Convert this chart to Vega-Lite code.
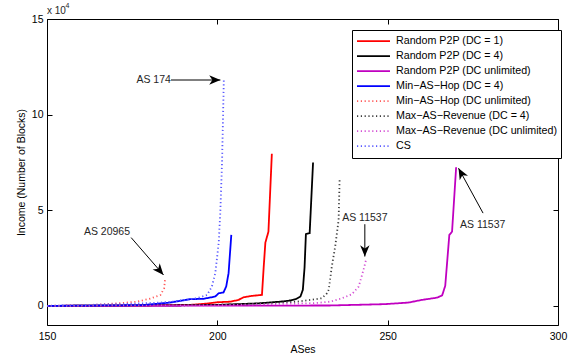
{
  "$schema": "https://vega.github.io/schema/vega-lite/v6.json",
  "width": 511,
  "height": 306,
  "autosize": {"type": "none"},
  "padding": {"left": 47, "top": 19, "right": 17, "bottom": 31},
  "background": "white",
  "config": {
    "view": {"stroke": null},
    "font": "Liberation Sans",
    "axis": {
      "domainColor": "black",
      "domainWidth": 1,
      "tickColor": "black",
      "tickSize": -5,
      "labelFlush": false,
      "labelOverlap": false,
      "labelColor": "black",
      "labelFont": "Liberation Sans",
      "labelFontSize": 10.5,
      "titleFont": "Liberation Sans",
      "titleFontSize": 10.5,
      "titleFontWeight": "normal",
      "titleColor": "black",
      "grid": false
    }
  },
  "datasets": {
    "curves": [
      {"series": "Random P2P (DC = 1)", "x": 150, "y": 0},
      {"series": "Random P2P (DC = 1)", "x": 170, "y": 200},
      {"series": "Random P2P (DC = 1)", "x": 185, "y": 400},
      {"series": "Random P2P (DC = 1)", "x": 192, "y": 500},
      {"series": "Random P2P (DC = 1)", "x": 197, "y": 1200},
      {"series": "Random P2P (DC = 1)", "x": 200, "y": 1900},
      {"series": "Random P2P (DC = 1)", "x": 203.8, "y": 2200},
      {"series": "Random P2P (DC = 1)", "x": 206.2, "y": 3100},
      {"series": "Random P2P (DC = 1)", "x": 207.7, "y": 4500},
      {"series": "Random P2P (DC = 1)", "x": 210, "y": 5200},
      {"series": "Random P2P (DC = 1)", "x": 213.1, "y": 5750},
      {"series": "Random P2P (DC = 1)", "x": 213.6, "y": 20000},
      {"series": "Random P2P (DC = 1)", "x": 214.1, "y": 33100},
      {"series": "Random P2P (DC = 1)", "x": 215, "y": 38800},
      {"series": "Random P2P (DC = 1)", "x": 216, "y": 79500},

      {"series": "Random P2P (DC = 4)", "x": 150, "y": 0},
      {"series": "Random P2P (DC = 4)", "x": 180, "y": 200},
      {"series": "Random P2P (DC = 4)", "x": 200, "y": 500},
      {"series": "Random P2P (DC = 4)", "x": 212, "y": 1300},
      {"series": "Random P2P (DC = 4)", "x": 218.5, "y": 2200},
      {"series": "Random P2P (DC = 4)", "x": 221, "y": 2700},
      {"series": "Random P2P (DC = 4)", "x": 223, "y": 3500},
      {"series": "Random P2P (DC = 4)", "x": 224.4, "y": 4900},
      {"series": "Random P2P (DC = 4)", "x": 225.1, "y": 8400},
      {"series": "Random P2P (DC = 4)", "x": 225.6, "y": 20000},
      {"series": "Random P2P (DC = 4)", "x": 226, "y": 37500},
      {"series": "Random P2P (DC = 4)", "x": 227.1, "y": 38000},
      {"series": "Random P2P (DC = 4)", "x": 228.1, "y": 75000},

      {"series": "Random P2P (DC unlimited)", "x": 150, "y": 0},
      {"series": "Random P2P (DC unlimited)", "x": 200, "y": 100},
      {"series": "Random P2P (DC unlimited)", "x": 233, "y": 200},
      {"series": "Random P2P (DC unlimited)", "x": 249, "y": 900},
      {"series": "Random P2P (DC unlimited)", "x": 256, "y": 1700},
      {"series": "Random P2P (DC unlimited)", "x": 260, "y": 3100},
      {"series": "Random P2P (DC unlimited)", "x": 264.5, "y": 4300},
      {"series": "Random P2P (DC unlimited)", "x": 266, "y": 5500},
      {"series": "Random P2P (DC unlimited)", "x": 266.9, "y": 10500},
      {"series": "Random P2P (DC unlimited)", "x": 268.1, "y": 37100},
      {"series": "Random P2P (DC unlimited)", "x": 268.9, "y": 38800},
      {"series": "Random P2P (DC unlimited)", "x": 270.1, "y": 72500},

      {"series": "Min−AS−Hop (DC = 4)", "x": 150, "y": 0},
      {"series": "Min−AS−Hop (DC = 4)", "x": 165, "y": 200},
      {"series": "Min−AS−Hop (DC = 4)", "x": 178, "y": 400},
      {"series": "Min−AS−Hop (DC = 4)", "x": 186, "y": 1700},
      {"series": "Min−AS−Hop (DC = 4)", "x": 192, "y": 3500},
      {"series": "Min−AS−Hop (DC = 4)", "x": 196, "y": 3700},
      {"series": "Min−AS−Hop (DC = 4)", "x": 199.4, "y": 4900},
      {"series": "Min−AS−Hop (DC = 4)", "x": 200.4, "y": 6600},
      {"series": "Min−AS−Hop (DC = 4)", "x": 201.8, "y": 7000},
      {"series": "Min−AS−Hop (DC = 4)", "x": 202.6, "y": 10100},
      {"series": "Min−AS−Hop (DC = 4)", "x": 203.3, "y": 17100},
      {"series": "Min−AS−Hop (DC = 4)", "x": 204.1, "y": 37100},

      {"series": "Min−AS−Hop (DC unlimited)", "x": 150, "y": 0},
      {"series": "Min−AS−Hop (DC unlimited)", "x": 163.7, "y": 500},
      {"series": "Min−AS−Hop (DC unlimited)", "x": 171.5, "y": 1400},
      {"series": "Min−AS−Hop (DC unlimited)", "x": 176.4, "y": 2200},
      {"series": "Min−AS−Hop (DC unlimited)", "x": 180.3, "y": 3800},
      {"series": "Min−AS−Hop (DC unlimited)", "x": 183.3, "y": 5700},
      {"series": "Min−AS−Hop (DC unlimited)", "x": 184.4, "y": 9200},
      {"series": "Min−AS−Hop (DC unlimited)", "x": 184.7, "y": 14800},

      {"series": "Max−AS−Revenue (DC = 4)", "x": 150, "y": 0},
      {"series": "Max−AS−Revenue (DC = 4)", "x": 190, "y": 300},
      {"series": "Max−AS−Revenue (DC = 4)", "x": 210, "y": 900},
      {"series": "Max−AS−Revenue (DC = 4)", "x": 223.4, "y": 2200},
      {"series": "Max−AS−Revenue (DC = 4)", "x": 227.3, "y": 3100},
      {"series": "Max−AS−Revenue (DC = 4)", "x": 230.7, "y": 4000},
      {"series": "Max−AS−Revenue (DC = 4)", "x": 232.2, "y": 6600},
      {"series": "Max−AS−Revenue (DC = 4)", "x": 232.7, "y": 8400},
      {"series": "Max−AS−Revenue (DC = 4)", "x": 233.6, "y": 20500},
      {"series": "Max−AS−Revenue (DC = 4)", "x": 234.6, "y": 31000},
      {"series": "Max−AS−Revenue (DC = 4)", "x": 235.6, "y": 45000},
      {"series": "Max−AS−Revenue (DC = 4)", "x": 235.9, "y": 66200},

      {"series": "Max−AS−Revenue (DC unlimited)", "x": 150, "y": 0},
      {"series": "Max−AS−Revenue (DC unlimited)", "x": 200, "y": 300},
      {"series": "Max−AS−Revenue (DC unlimited)", "x": 228.3, "y": 1400},
      {"series": "Max−AS−Revenue (DC unlimited)", "x": 233.2, "y": 2200},
      {"series": "Max−AS−Revenue (DC unlimited)", "x": 236.6, "y": 4000},
      {"series": "Max−AS−Revenue (DC unlimited)", "x": 239.5, "y": 6100},
      {"series": "Max−AS−Revenue (DC unlimited)", "x": 241.5, "y": 10100},
      {"series": "Max−AS−Revenue (DC unlimited)", "x": 242.9, "y": 18800},
      {"series": "Max−AS−Revenue (DC unlimited)", "x": 243.7, "y": 24400},

      {"series": "CS", "x": 150, "y": 0},
      {"series": "CS", "x": 173.5, "y": 1000},
      {"series": "CS", "x": 183.3, "y": 1700},
      {"series": "CS", "x": 187, "y": 2300},
      {"series": "CS", "x": 194, "y": 4000},
      {"series": "CS", "x": 197, "y": 5700},
      {"series": "CS", "x": 198.4, "y": 10100},
      {"series": "CS", "x": 199.4, "y": 17100},
      {"series": "CS", "x": 200.4, "y": 32800},
      {"series": "CS", "x": 200.9, "y": 50200},
      {"series": "CS", "x": 201.4, "y": 76300},
      {"series": "CS", "x": 201.9, "y": 117800}
    ],
    "notes": [
      {"id": "a174", "label": "AS 174", "tx": 181.3, "ty": 118100, "x1": 186.4, "y1": 118100, "x2": 200.9, "y2": 118100},
      {"id": "a20965", "label": "AS 20965", "tx": 167.6, "ty": 38800, "x1": 174.7, "y1": 35700, "x2": 184.2, "y2": 16200},
      {"id": "a11537m", "label": "AS 11537", "tx": 243.3, "ty": 45800, "x1": 243.3, "y1": 42700, "x2": 243.3, "y2": 25800},
      {"id": "a11537r", "label": "AS 11537", "tx": 277.9, "ty": 42300, "x1": 278.0, "y1": 48500, "x2": 270.8, "y2": 72000}
    ],
    "exponent": [
      {"t": "x 10", "x": 150, "y": 152600},
      {"t": "4", "x": 155.4, "y": 155500}
    ]
  },
  "layer": [
    {
      "data": {"name": "curves"},
      "mark": {"type": "line", "clip": true},
      "encoding": {
        "x": {"field": "x", "type": "quantitative",
          "scale": {"domain": [150, 300], "nice": false, "zero": false},
          "axis": {"values": [150, 200, 250, 300], "title": "ASes", "labelPadding": 11, "titlePadding": 3}},
        "y": {"field": "y", "type": "quantitative",
          "scale": {"domain": [-10000, 150000], "nice": false, "zero": false},
          "axis": {"values": [0, 50000, 100000, 150000], "labelExpr": "datum.value / 10000", "title": "Income (Number of Blocks)", "labelPadding": 9, "titlePadding": 5}},
        "color": {"field": "series", "type": "nominal",
          "scale": {
            "domain": ["Random P2P (DC = 1)", "Random P2P (DC = 4)", "Random P2P (DC unlimited)", "Min−AS−Hop (DC = 4)", "Min−AS−Hop (DC unlimited)", "Max−AS−Revenue (DC = 4)", "Max−AS−Revenue (DC unlimited)", "CS"],
            "range": ["#ff0000", "#000000", "#c000c0", "#0000ff", "#ff5a5a", "#3c3c3c", "#d450d4", "#5a5aff"]},
          "legend": {
            "title": null, "orient": "none", "legendX": 305, "legendY": 11,
            "fillColor": "white", "strokeColor": "black",
            "padding": 4, "symbolType": "stroke", "symbolSize": 1089,
            "labelFont": "Liberation Sans", "labelFontSize": 10.7, "labelColor": "black",
            "labelOffset": 5, "rowPadding": 0, "clipHeight": 14.3, "labelLimit": 300
          }},
        "strokeDash": {"field": "series", "type": "nominal",
          "scale": {
            "domain": ["Random P2P (DC = 1)", "Random P2P (DC = 4)", "Random P2P (DC unlimited)", "Min−AS−Hop (DC = 4)", "Min−AS−Hop (DC unlimited)", "Max−AS−Revenue (DC = 4)", "Max−AS−Revenue (DC unlimited)", "CS"],
            "range": [[1, 0], [1, 0], [1, 0], [1, 0], [1.2, 2.6], [1.2, 2.6], [1.2, 2.6], [1.2, 2.6]]}},
        "strokeWidth": {"field": "series", "type": "nominal",
          "scale": {
            "domain": ["Random P2P (DC = 1)", "Random P2P (DC = 4)", "Random P2P (DC unlimited)", "Min−AS−Hop (DC = 4)", "Min−AS−Hop (DC unlimited)", "Max−AS−Revenue (DC = 4)", "Max−AS−Revenue (DC unlimited)", "CS"],
            "range": [1.8, 1.8, 1.8, 1.8, 1.2, 1.2, 1.2, 1.2]}}
      }
    },
    {
      "data": {"name": "notes"},
      "mark": {"type": "rule", "color": "black", "strokeWidth": 1},
      "encoding": {
        "x": {"field": "x1", "type": "quantitative", "axis": {"orient": "top", "values": [150, 200, 250, 300], "labels": false, "title": null}},
        "y": {"field": "y1", "type": "quantitative", "axis": {"orient": "right", "values": [0, 50000, 100000, 150000], "labels": false, "title": null}},
        "x2": {"field": "x2"},
        "y2": {"field": "y2"}
      }
    },
    {
      "data": {"name": "notes"},
      "mark": {"type": "text", "font": "Liberation Sans", "fontSize": 10.5, "color": "#262626", "align": "center", "baseline": "middle"},
      "encoding": {
        "x": {"field": "tx", "type": "quantitative", "axis": null},
        "y": {"field": "ty", "type": "quantitative", "axis": null},
        "text": {"field": "label"}
      }
    },
    {
      "data": {"name": "notes"},
      "transform": [{"filter": "datum.id == 'a174'"}],
      "mark": {"type": "point", "shape": "M0,0 L-1,-0.42 L-0.72,0 L-1,0.42 Z", "filled": true, "color": "black", "size": 500, "angle": 0, "opacity": 1},
      "encoding": {"x": {"field": "x2", "type": "quantitative", "axis": null}, "y": {"field": "y2", "type": "quantitative", "axis": null}}
    },
    {
      "data": {"name": "notes"},
      "transform": [{"filter": "datum.id == 'a20965'"}],
      "mark": {"type": "point", "shape": "M0,0 L-1,-0.42 L-0.72,0 L-1,0.42 Z", "filled": true, "color": "black", "size": 500, "angle": 49, "opacity": 1},
      "encoding": {"x": {"field": "x2", "type": "quantitative", "axis": null}, "y": {"field": "y2", "type": "quantitative", "axis": null}}
    },
    {
      "data": {"name": "notes"},
      "transform": [{"filter": "datum.id == 'a11537m'"}],
      "mark": {"type": "point", "shape": "M0,0 L-1,-0.42 L-0.72,0 L-1,0.42 Z", "filled": true, "color": "black", "size": 500, "angle": 90, "opacity": 1},
      "encoding": {"x": {"field": "x2", "type": "quantitative", "axis": null}, "y": {"field": "y2", "type": "quantitative", "axis": null}}
    },
    {
      "data": {"name": "notes"},
      "transform": [{"filter": "datum.id == 'a11537r'"}],
      "mark": {"type": "point", "shape": "M0,0 L-1,-0.42 L-0.72,0 L-1,0.42 Z", "filled": true, "color": "black", "size": 500, "angle": 241.5, "opacity": 1},
      "encoding": {"x": {"field": "x2", "type": "quantitative", "axis": null}, "y": {"field": "y2", "type": "quantitative", "axis": null}}
    },
    {
      "data": {"name": "exponent"},
      "transform": [{"filter": "datum.t == 'x 10'"}],
      "mark": {"type": "text", "font": "Liberation Sans", "fontSize": 10, "color": "#262626", "align": "left", "baseline": "alphabetic"},
      "encoding": {"x": {"field": "x", "type": "quantitative", "axis": null}, "y": {"field": "y", "type": "quantitative", "axis": null}, "text": {"field": "t"}}
    },
    {
      "data": {"name": "exponent"},
      "transform": [{"filter": "datum.t == '4'"}],
      "mark": {"type": "text", "font": "Liberation Sans", "fontSize": 7, "color": "#262626", "align": "left", "baseline": "alphabetic"},
      "encoding": {"x": {"field": "x", "type": "quantitative", "axis": null}, "y": {"field": "y", "type": "quantitative", "axis": null}, "text": {"field": "t"}}
    }
  ],
  "resolve": {"axis": {"x": "independent", "y": "independent"}}
}
